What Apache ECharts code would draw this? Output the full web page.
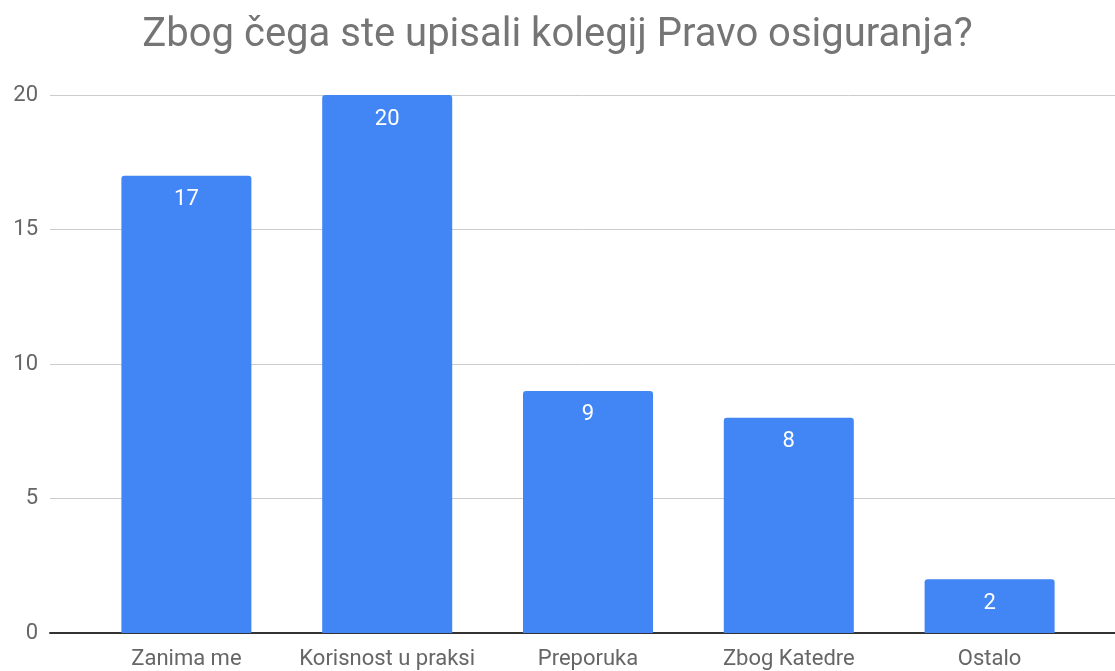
<!DOCTYPE html>
<html>
<head>
<meta charset="utf-8">
<script src="https://cdn.jsdelivr.net/npm/echarts@6/dist/echarts.min.js"></script>
<style>
  html, body { margin: 0; padding: 0; background: #fff; }
  #main { width: 1115px; height: 671px; }
</style>
</head>
<body>
<div id="main"></div>
<script>
var categories = ['Zanima me', 'Korisnost u praksi', 'Preporuka', 'Zbog Katedre', 'Ostalo'];
var counts = [17, 20, 9, 8, 2];
var yTicks = { min: 0, max: 20, interval: 5 };

var chart = echarts.init(document.getElementById('main'));
var option = {
  animation: false,
  title: {
    text: 'Zbog čega ste upisali kolegij Pravo osiguranja?',
    left: 'center',
    top: 11,
    textStyle: { fontFamily: 'Roboto', fontSize: 40, fontWeight: 'normal', color: '#757575' }
  },
  grid: [
    { left: 50, right: 0, top: 95, bottom: 38 },
    { left: 86, right: 25, top: 95, bottom: 38 }
  ],
  xAxis: [
    {
      type: 'value', gridIndex: 0, min: 0, max: 1,
      axisLine: { show: true, lineStyle: { color: '#333', width: 2 } },
      axisTick: { show: false }, axisLabel: { show: false }, splitLine: { show: false }
    },
    {
      type: 'category', gridIndex: 1, data: categories,
      axisLine: { show: false }, axisTick: { show: false },
      axisLabel: { interval: 0, hideOverlap: false, fontFamily: 'Roboto', fontSize: 22, color: '#666', margin: 15 }
    }
  ],
  yAxis: [
    {
      type: 'value', gridIndex: 0, min: yTicks.min, max: yTicks.max, interval: yTicks.interval,
      axisLine: { show: false }, axisTick: { show: false },
      axisLabel: { fontFamily: 'Roboto', fontSize: 22, color: '#666', margin: 12 },
      splitLine: { lineStyle: { color: '#ccc', width: 1 } }
    },
    {
      type: 'value', gridIndex: 1, min: yTicks.min, max: yTicks.max, interval: yTicks.interval,
      show: false, splitLine: { show: false }
    }
  ],
  series: [{
    type: 'bar',
    xAxisIndex: 1, yAxisIndex: 1,
    data: counts,
    barWidth: 130,
    itemStyle: { color: '#4285F4', borderRadius: [3, 3, 0, 0] },
    label: {
      show: true, position: 'insideTop', distance: 13,
      color: '#fff', fontFamily: 'Roboto', fontSize: 22
    }
  }]
};
chart.setOption(option);
</script>
</body>
</html>
